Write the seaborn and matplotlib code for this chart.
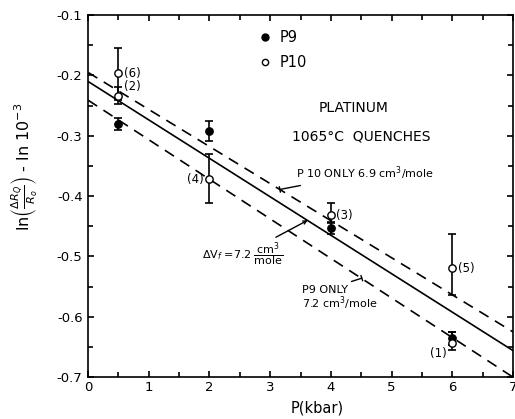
import numpy as np
import pandas as pd
import seaborn as sns
import matplotlib
matplotlib.use("Agg")
import matplotlib.pyplot as plt
from matplotlib.lines import Line2D
from matplotlib.ticker import MultipleLocator, FormatStrFormatter

# P9 specimen (filled points)
p9_x = [0.5, 2, 4, 6]
p9_y = [-0.281, -0.292, -0.453, -0.636]
p9_err = [0.010, 0.017, 0.010, 0.010]

# P10 specimen (open points)
p10_x = [0.5, 0.5, 2, 4, 6, 6]
p10_y = [-0.196, -0.234, -0.372, -0.432, -0.520, -0.643]
p10_err_lo = [0.044, 0.014, 0.040, 0.012, 0.044, 0.012]
p10_err_hi = [0.042, 0.015, 0.041, 0.021, 0.058, 0.017]
p10_tags = ["(6)", "(2)", "(4)", "(3)", "(5)", "(1)"]

# fitted lines (end points at P = 0 and P = 7 kbar)
fit_x = [0, 7]
fit_all_y = [-0.210, -0.656]
fit_p10_y = [-0.195, -0.625]
fit_p9_y = [-0.241, -0.700]

sns.set_style("ticks")
plt.rcParams["font.family"] = ["DejaVu Sans"]
plt.rcParams["mathtext.fontset"] = "dejavusans"
plt.rcParams["axes.unicode_minus"] = False
plt.rcParams["text.color"] = "k"
plt.rcParams["axes.labelcolor"] = "k"

fig = plt.figure(figsize=(5.15, 4.19), dpi=100)
ax = fig.add_axes([0.171, 0.100, 0.825, 0.864])

# lines
sns.lineplot(x=fit_x, y=fit_all_y, ax=ax, color="k", lw=1.2)
sns.lineplot(x=fit_x, y=fit_p10_y, ax=ax, color="k", lw=1.2, linestyle=(0, (6.5, 4.5)))
sns.lineplot(x=fit_x, y=fit_p9_y, ax=ax, color="k", lw=1.2, linestyle=(0, (6.5, 4.5)))

# error bars
ax.errorbar(p9_x, p9_y, yerr=p9_err, fmt="none", ecolor="k", elinewidth=1.2,
            capsize=3, capthick=1.2, zorder=3)
ax.errorbar(p10_x, p10_y, yerr=[p10_err_lo, p10_err_hi], fmt="none", ecolor="k",
            elinewidth=1.2, capsize=3, capthick=1.2, zorder=3)

# points
pts = pd.DataFrame({"P": p9_x + p10_x, "y": p9_y + p10_y,
                    "spec": ["P9"] * len(p9_x) + ["P10"] * len(p10_x)})
sns.scatterplot(data=pts[pts.spec == "P9"], x="P", y="y", ax=ax, color="k",
                edgecolor="k", s=28, linewidth=1, zorder=4, legend=False)
sns.scatterplot(data=pts[pts.spec == "P10"], x="P", y="y", ax=ax, color="white",
                edgecolor="k", s=28, linewidth=1, zorder=5, legend=False)

# point tags
tag_off = {"(6)": (4, 0, "left"), "(2)": (4, 7, "left"), "(4)": (-4, 0, "right"),
           "(3)": (4, 0, "left"), "(5)": (4, 0, "left"), "(1)": (-4, -8, "right")}
for x, y, t in zip(p10_x, p10_y, p10_tags):
    dx, dy, ha = tag_off[t]
    ax.annotate(t, (x, y), xytext=(dx, dy), textcoords="offset points",
                ha=ha, va="center", fontsize=8.5)

# legend
handles = [Line2D([], [], ls="none", marker="o", mfc="k", mec="k", ms=5),
           Line2D([], [], ls="none", marker="o", mfc="white", mec="k", ms=4.5)]
ax.legend(handles, ["P9", "P10"], loc="upper left", bbox_to_anchor=(0.388, 0.975),
          frameon=False, handlelength=0.8, handletextpad=0.6, labelspacing=0.7,
          fontsize=10.5, borderaxespad=0)

ax.text(4.37, -0.254, "PLATINUM", ha="center", va="center", fontsize=10)
ax.text(4.5, -0.302, "1065°C  QUENCHES", ha="center", va="center", fontsize=10)

ax.annotate("P 10 ONLY 6.9 cm$^3$/mole", xy=(3.16, -0.389), xytext=(3.42, -0.362),
            ha="left", va="center", fontsize=8,
            arrowprops=dict(arrowstyle="-[, widthB=0.25, lengthB=0", color="k", lw=1,
                            shrinkA=1, shrinkB=0))
ax.annotate(r"$\Delta$V$_f$ =7.2 $\dfrac{\mathrm{cm}^3}{\mathrm{mole}}$",
            xy=(3.62, -0.440), xytext=(1.87, -0.498), ha="left", va="center",
            fontsize=8,
            arrowprops=dict(arrowstyle="->, head_width=0.15, head_length=0.3",
                            color="k", lw=1, shrinkA=1, shrinkB=0))
ax.annotate("P9 ONLY", xy=(4.51, -0.536), xytext=(3.52, -0.556), ha="left",
            va="center", fontsize=8,
            arrowprops=dict(arrowstyle="-[, widthB=0.25, lengthB=0", color="k", lw=1,
                            shrinkA=1, shrinkB=0))
ax.text(3.52, -0.578, "7.2 cm$^3$/mole", ha="left", va="center", fontsize=8)

# axes
ax.set_xlim(0, 7)
ax.set_ylim(-0.7, -0.1)
ax.set_xticks(range(8))
ax.xaxis.set_minor_locator(MultipleLocator(0.5))
ax.set_yticks(np.round(np.arange(-0.7, -0.05, 0.1), 1))
ax.yaxis.set_minor_locator(MultipleLocator(0.05))
ax.yaxis.set_major_formatter(FormatStrFormatter("%.1f"))
ax.tick_params(which="both", direction="in", top=True, right=True, width=1.2,
               labelsize=9.5, colors="k")
ax.tick_params(which="major", length=4.5)
ax.tick_params(which="minor", length=3.5)
ax.tick_params(axis="x", pad=3)
ax.tick_params(axis="y", pad=4)
for s in ax.spines.values():
    s.set_linewidth(1.2)
    s.set_color("k")

ax.set_xlabel("P(kbar)", fontsize=10.5)
ax.set_ylabel(r"ln$\left(\frac{\Delta R_Q}{R_o}\right)$ - ln 10$^{-3}$", fontsize=11.5)
ax.xaxis.set_label_coords(0.54, -0.064)
ax.yaxis.set_label_coords(-0.112, 0.58)

fig.savefig("out.png", dpi=100)
